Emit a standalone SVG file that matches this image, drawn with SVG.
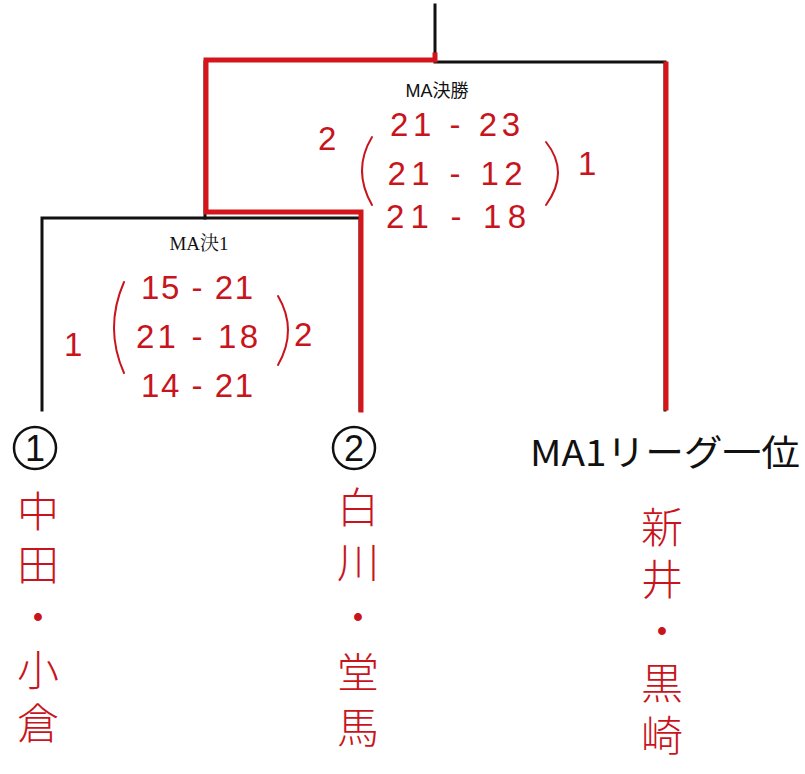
<svg xmlns="http://www.w3.org/2000/svg" width="805" height="774" viewBox="0 0 805 774">
<style>
.blk{fill:none;stroke:#111;stroke-width:3;stroke-linecap:square}
.red{fill:none;stroke:#d4161c;stroke-width:5;stroke-linecap:square;stroke-linejoin:miter}
.hw{font-family:"Liberation Sans","Noto Sans",sans-serif;font-size:33px;fill:#c8141c}
.par{fill:none;stroke:#c8141c;stroke-width:2;stroke-linecap:round}
.nm{font-family:"Noto Sans CJK JP",sans-serif;font-size:42px;fill:#c8141c;writing-mode:vertical-rl;font-weight:300}
.lbl{font-family:"Liberation Sans","Noto Sans CJK JP",sans-serif;font-size:18px;fill:#111;text-anchor:middle}
.lbls{font-family:"Liberation Serif","Noto Serif CJK JP","Noto Sans CJK JP",serif;font-size:19px;fill:#111;text-anchor:middle}
</style>
<rect width="805" height="774" fill="#fff"/>
<g id="connectors">
  <path class="blk" d="M435 5 V62 H665 V410"/>
  <path class="blk" d="M205 62 V218"/>
  <path class="blk" d="M42 410 V218 H360 V410"/>
  <path class="red" d="M435 55 V60 H206 V212 H361 V410"/>
  <path class="red" d="M666 64 V408"/>
</g>
<g id="final">
  <text class="lbl" x="437" y="97">MA決勝</text>
  <text class="hw" x="318" y="150" font-size="36">2</text>
  <text class="hw" x="455" y="136" text-anchor="middle" textLength="130">21 - 23</text>
  <text class="hw" x="455" y="185" text-anchor="middle" textLength="135">21 - 12</text>
  <text class="hw" x="456" y="228" text-anchor="middle" textLength="140">21 - 18</text>
  <path class="par" d="M372 137 Q352 170 372 205"/>
  <path class="par" d="M546 142 Q570 172 546 205"/>
  <text class="hw" x="578" y="175" font-size="44">1</text>
</g>
<g id="semi1">
  <text class="lbls" x="199" y="250">MA決1</text>
  <text class="hw" x="197" y="299" text-anchor="middle" textLength="112">15 - 21</text>
  <text class="hw" x="197" y="348" text-anchor="middle" textLength="122">21 - 18</text>
  <text class="hw" x="197" y="397" text-anchor="middle" textLength="112">14 - 21</text>
  <text class="hw" x="64" y="356" font-size="44">1</text>
  <path class="par" d="M124 282 Q104 328 124 373"/>
  <path class="par" d="M278 296 Q298 330 278 365"/>
  <text class="hw" x="294" y="346">2</text>
</g>
<g id="seed1">
  <circle cx="35" cy="448" r="21" fill="none" stroke="#111" stroke-width="2.5"/>
  <text x="35" y="461" font-family="Liberation Sans, sans-serif" font-size="36" text-anchor="middle" fill="#111">1</text>
  <text class="nm" x="38" y="490" letter-spacing="11">中田・小倉</text>
</g>
<g id="seed2">
  <circle cx="354" cy="448" r="21" fill="none" stroke="#111" stroke-width="2.5"/>
  <text x="354" y="461" font-family="Liberation Sans, sans-serif" font-size="36" text-anchor="middle" fill="#111">2</text>
  <text class="nm" x="358" y="486" font-size="44" letter-spacing="13">白川・堂馬</text>
</g>
<g id="league1">
  <text x="530" y="466" font-family="Liberation Sans Narrow, Noto Sans CJK JP, sans-serif" font-size="36" fill="#111" textLength="270" lengthAdjust="spacingAndGlyphs">MA1リーグ一位</text>
  <text class="nm" x="662" y="506" font-size="44" letter-spacing="10">新井・黒崎</text>
</g>
</svg>
